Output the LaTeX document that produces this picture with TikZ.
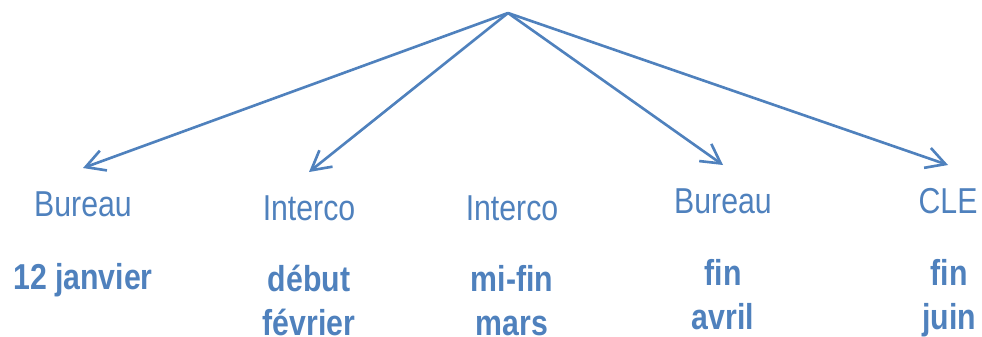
\documentclass[tikz,border=0pt]{standalone}
\usepackage{fontspec}
\setmainfont{Liberation Sans}[FakeStretch=0.84]
\usetikzlibrary{arrows.meta}
\definecolor{blu}{HTML}{4F81BD}

\begin{document}
\begin{tikzpicture}[x=0.02cm,y=-0.02cm,
  lab/.style={blu,font=\fontsize{20.5}{25}\selectfont,anchor=base,inner sep=0pt,
    text height=0.52cm,text depth=0pt,outer ysep=0.44cm},
  date/.style={blu,font=\bfseries\fontsize{20.5}{25}\selectfont,anchor=base,
    align=center,inner sep=0pt}]
\useasboundingbox (0,0) rectangle (982,336);
\coordinate (top) at (508,13);

\node[lab](bur1) at (83,216){Bureau};
\node[lab](int1) at (309,220){Interco};
\node[lab](int2) at (512,220){Interco};
\node[lab](bur2) at (723,213){Bureau};
\node[lab](cle) at (948,213){CLE};

% base = last line
\node[date](d1) at (83,289){12 janvier};
\node[date](d2) at (309,335){début\\février};
\node[date](d3) at (512,335){mi-fin\\mars};
\node[date](d4) at (723,329){fin\\avril};
\node[date](d5) at (949,329){fin\\juin};

\path[blu,line width=1.5pt]
(top) edge[-{Straight Barb[length=0.38cm,width=0.42cm]}] (bur1.north)
(top) edge[-{Straight Barb[length=0.38cm,width=0.42cm]}] (int1.north)
(top) edge[-{Straight Barb[length=0.38cm,width=0.42cm]}] (bur2.north)
(top) edge[-{Straight Barb[length=0.38cm,width=0.42cm]}] (cle.north);
\end{tikzpicture}
\end{document}
